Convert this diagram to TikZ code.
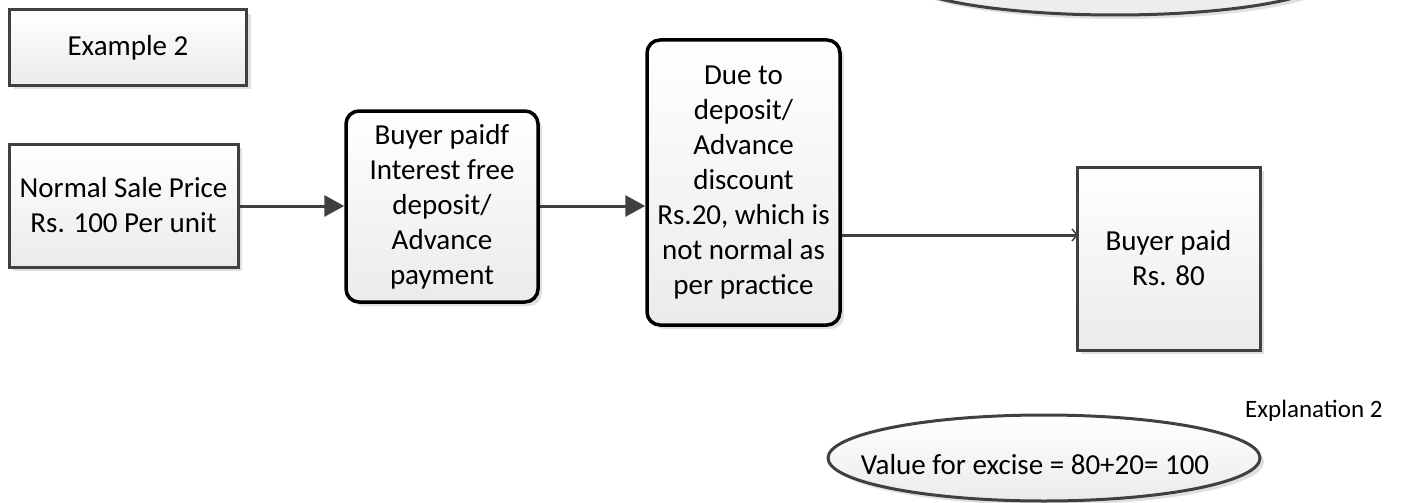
\documentclass[tikz,border=0pt]{standalone}
\usepackage{fontspec}
\setmainfont{Carlito}
\usetikzlibrary{shapes.geometric,shadows,arrows.meta,calc}
\definecolor{edge}{HTML}{404040}
\definecolor{fillbot}{HTML}{EBEBEB}
\definecolor{shade}{HTML}{E0E0E0}
\tikzset{
  base/.style={font=\fontsize{29}{35}\selectfont, align=center, top color=white, bottom color=fillbot,
    drop shadow={shadow xshift=4pt, shadow yshift=-4pt, fill=shade, opacity=1}, inner sep=0pt},
  sqbox/.style={base, rectangle, draw=edge, line width=3pt},
  rbox/.style={base, rectangle, rounded corners=13pt, draw=black, line width=3.5pt},
  oval/.style={base, ellipse, draw=edge, line width=3pt},
  conn/.style={draw=edge, line width=3pt, -{Triangle[length=20pt,width=21pt]}},
  plain/.style={draw=edge, line width=3pt, -{Straight Barb[length=5pt,width=12pt,line width=1.5pt]}},
  note/.style={font=\fontsize{25}{30}\selectfont, anchor=west, inner sep=0pt}
}
\begin{document}
\begin{tikzpicture}[x=1pt,y=-1pt]
\useasboundingbox (0,0) rectangle (1405,503);
\node[oval, minimum width=432pt, minimum height=78pt] (top) at (1115,-24) {};
\node[sqbox, minimum width=237pt, minimum height=75pt] (ex) at (128,47.5) {Example 2};
\node[sqbox, minimum width=229pt, minimum height=123pt] (nsp) at (123.5,205.5) {Normal Sale Price\\Rs. 100 Per unit};
\node[rbox, minimum width=192pt, minimum height=191pt] (b2) at (442,206.5) {Buyer paidf\\Interest free\\deposit/\\Advance\\payment};
\node[rbox, minimum width=193pt, minimum height=285pt] (b3) at (743.5,182.5) {Due to\\deposit/\\Advance\\discount\\Rs.20, which is\\not normal as\\per practice};
\coordinate (c3) at (840,235);
\draw[plain] (c3 -| b3.east) -- (c3 -| 1078,0);
\node[sqbox, minimum width=183pt, minimum height=183pt] (b4) at (1168.5,258.5) {Buyer paid\\Rs. 80};
\node[note] (expl) at (1245,411) {Explanation 2};
\node[oval, minimum width=432pt, minimum height=86pt,
  label={[font=\fontsize{29}{35}\selectfont, inner sep=0pt, xshift=-9pt, yshift=-7pt]center:Value for excise = 80+20= 100}] (val) at (1044,458) {};
\draw[conn] (nsp.east |- 0,206) -- (b2.west |- 0,206);
\draw[conn] (b2.east |- 0,206) -- (b3.west |- 0,206);
\end{tikzpicture}
\end{document}
